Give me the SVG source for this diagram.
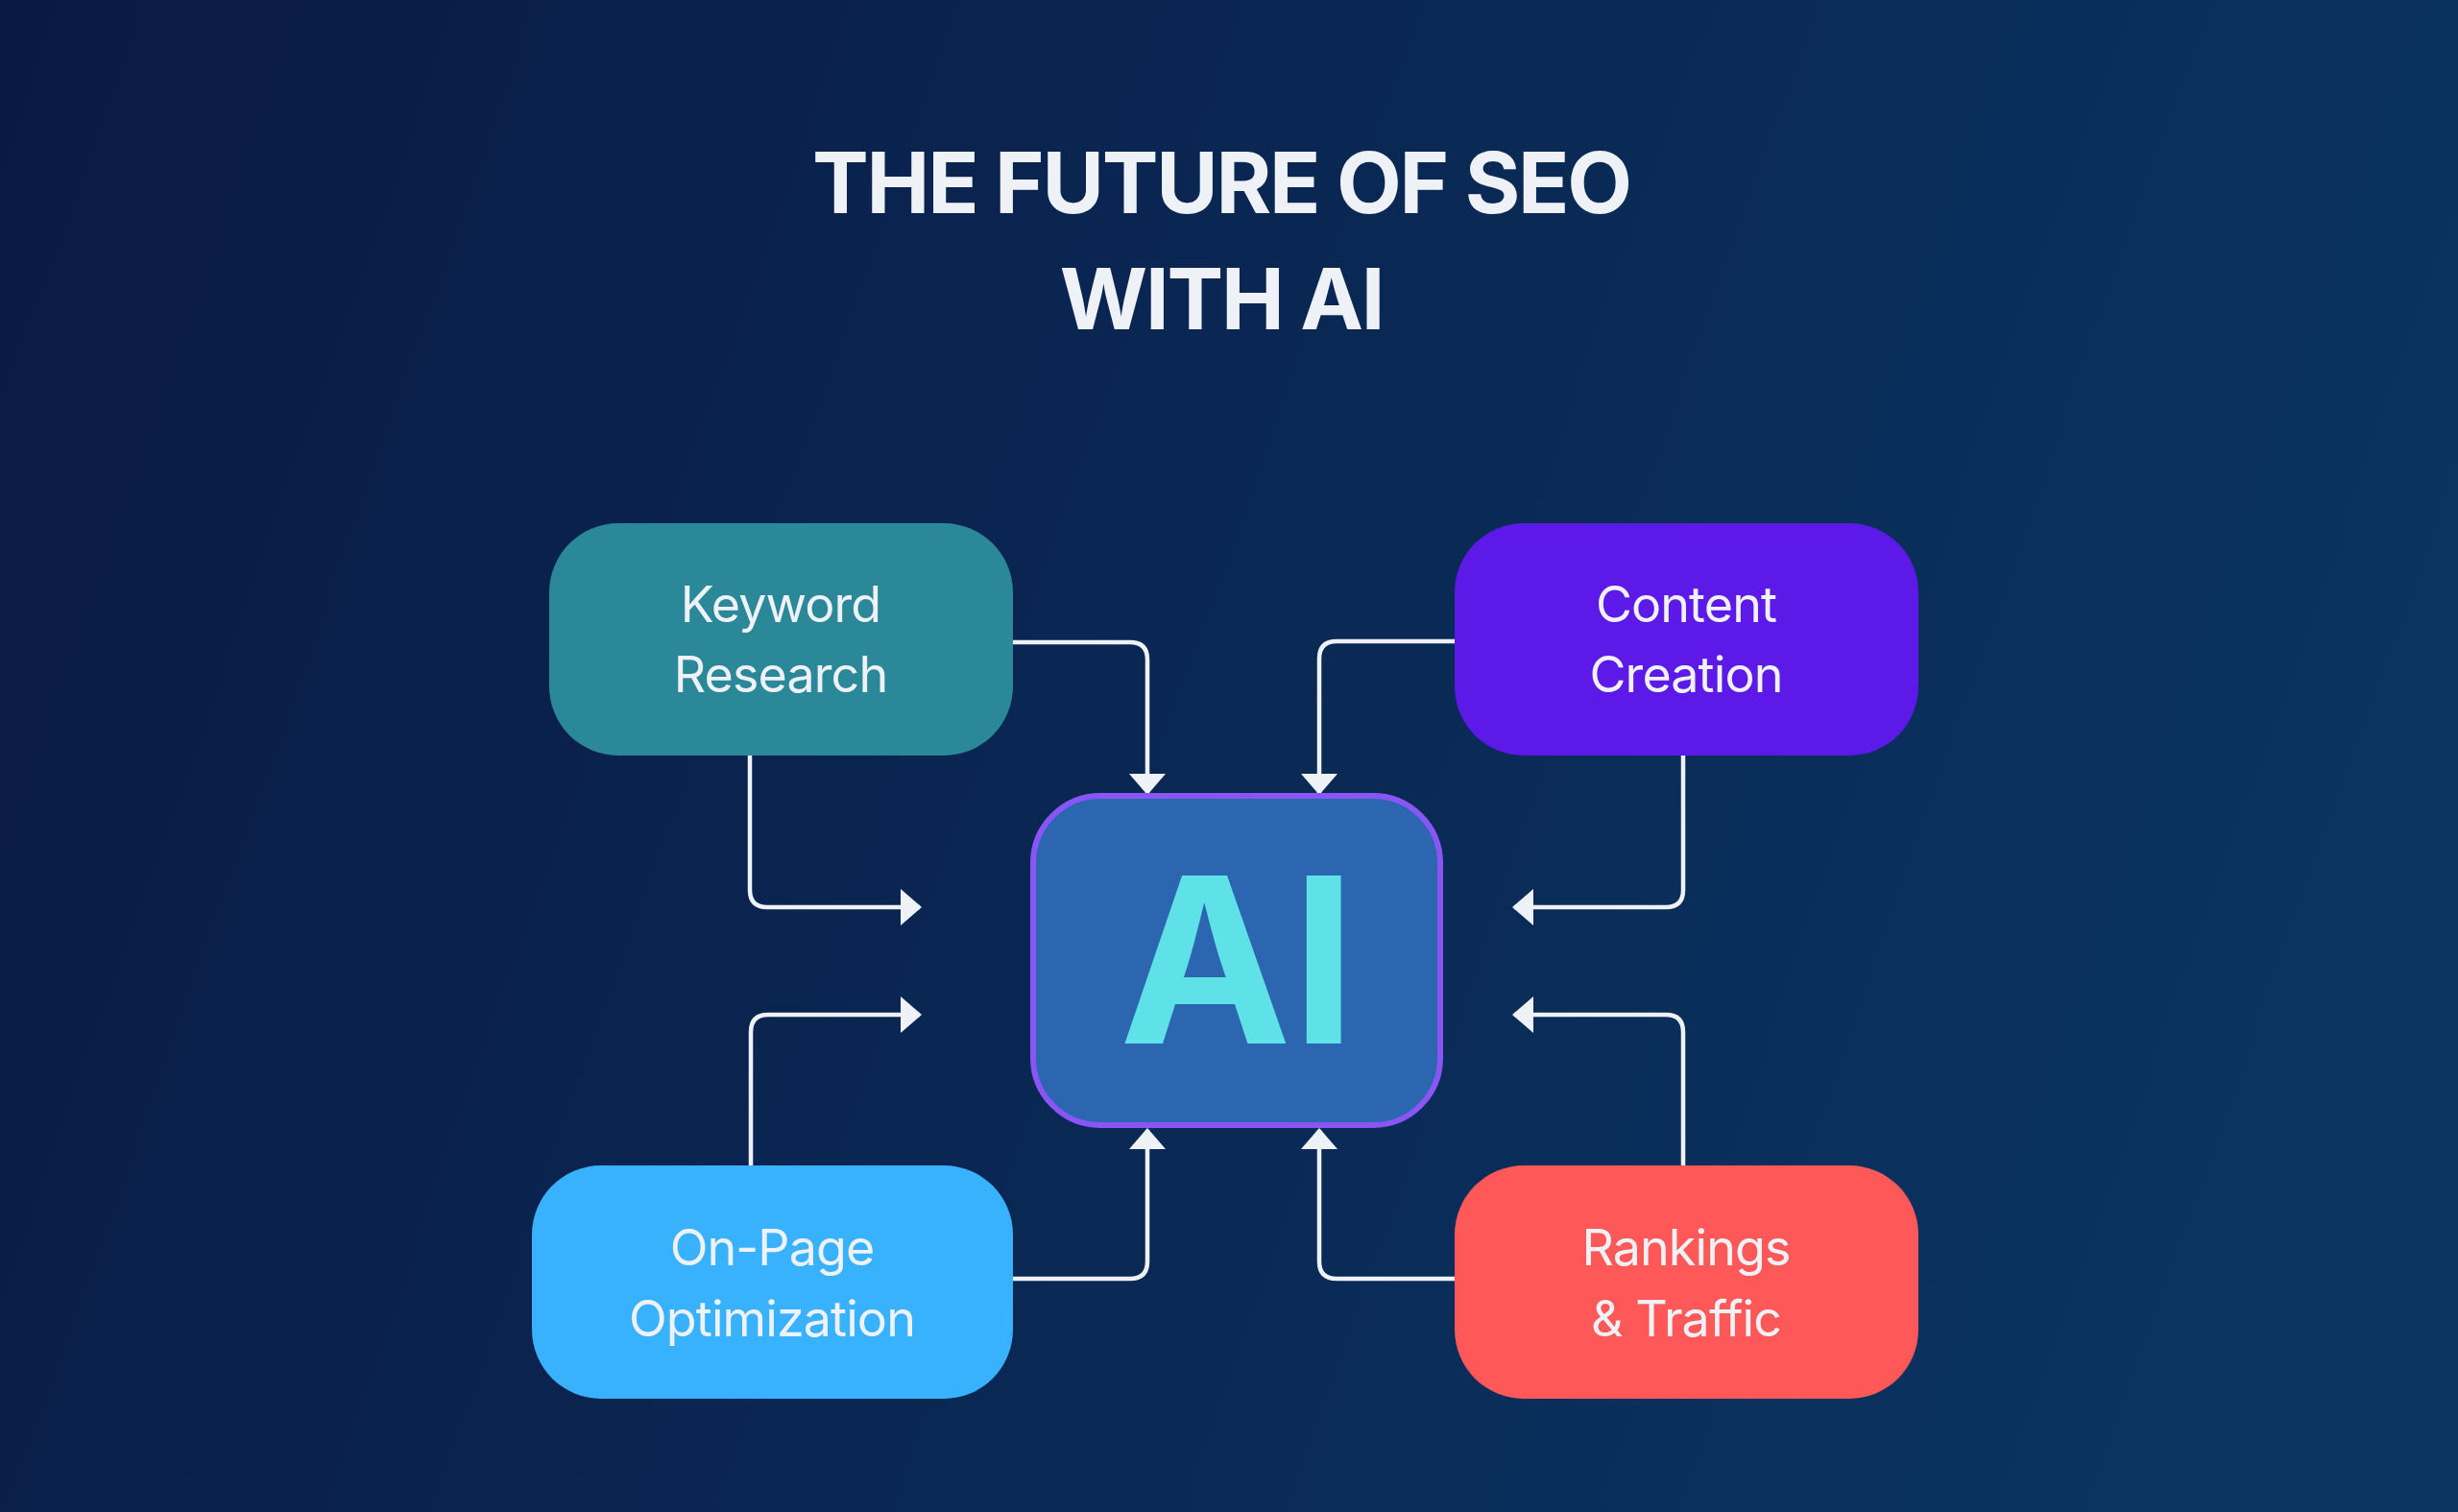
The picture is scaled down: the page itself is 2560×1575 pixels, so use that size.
<svg xmlns="http://www.w3.org/2000/svg" width="2560" height="1575" viewBox="0 0 2560 1575">
  <defs>
    <linearGradient id="bg" gradientUnits="userSpaceOnUse" x1="0" y1="0" x2="2560" y2="900">
      <stop offset="0" stop-color="#0a1944"/>
      <stop offset="1" stop-color="#0a3562"/>
    </linearGradient>
    <marker id="arr" viewBox="0 0 22 38" refX="20" refY="19" markerWidth="22" markerHeight="38" markerUnits="userSpaceOnUse" orient="auto">
      <path d="M0,0 L22,19 L0,38 Z" fill="#eef2f7"/>
    </marker>
    <style>
      .title { font-family: Inter, "Liberation Sans", sans-serif; font-weight: 700; font-size: 88px; fill: #eef2f7; text-anchor: middle; letter-spacing: -2.2px; }
      .lbl { font-family: Inter, "Liberation Sans", sans-serif; font-weight: 400; font-size: 52px; fill: #eef2f7; text-anchor: middle; letter-spacing: -0.9px; }
      .conn { fill: none; stroke: #eef2f7; stroke-width: 4.5; marker-end: url(#arr); }
      .ai { font-family: Inter, "Liberation Sans", sans-serif; font-weight: 700; font-size: 240px; fill: #5ee2e8; text-anchor: middle; }
    </style>
  </defs>
  <rect x="0" y="0" width="2560" height="1575" fill="url(#bg)"/>

  <g id="title">
    <text class="title" x="1272" y="222">THE FUTURE OF SEO</text>
    <text class="title" x="1272" y="343">WITH AI</text>
  </g>

  <g id="connectors">
    <path class="conn" d="M1055,669 H1177 Q1195,669 1195,687 V826"/>
    <path class="conn" d="M1515,668 H1392 Q1374,668 1374,686 V826"/>
    <path class="conn" d="M781,787 V927 Q781,945 799,945 H958"/>
    <path class="conn" d="M1753,787 V927 Q1753,945 1735,945 H1577"/>
    <path class="conn" d="M782,1214 V1075 Q782,1057 800,1057 H958"/>
    <path class="conn" d="M1753,1214 V1075 Q1753,1057 1735,1057 H1577"/>
    <path class="conn" d="M1055,1332 H1177 Q1195,1332 1195,1314 V1177"/>
    <path class="conn" d="M1516,1332 H1392 Q1374,1332 1374,1314 V1177"/>
  </g>

  <g id="node-ai">
    <rect x="1076" y="829" width="424" height="343" rx="70" fill="#2c66b0" stroke="#8a55f5" stroke-width="6"/>
    <text class="ai" x="1289" y="1087">AI</text>
  </g>

  <g id="node-keyword">
    <rect x="572" y="545" width="483" height="242" rx="72" fill="#2a8899"/>
    <text class="lbl" x="813" y="648">Keyword</text>
    <text class="lbl" x="813" y="721">Research</text>
  </g>

  <g id="node-content">
    <rect x="1515" y="545" width="483" height="242" rx="72" fill="#5c19e8"/>
    <text class="lbl" x="1756" y="648">Content</text>
    <text class="lbl" x="1756" y="721">Creation</text>
  </g>

  <g id="node-onpage">
    <rect x="554" y="1214" width="501" height="243" rx="72" fill="#38b2fc"/>
    <text class="lbl" x="804" y="1318">On-Page</text>
    <text class="lbl" x="804" y="1392">Optimization</text>
  </g>

  <g id="node-rankings">
    <rect x="1515" y="1214" width="483" height="243" rx="72" fill="#fe5958"/>
    <text class="lbl" x="1756" y="1318">Rankings</text>
    <text class="lbl" x="1756" y="1392">&amp; Traffic</text>
  </g>
</svg>
